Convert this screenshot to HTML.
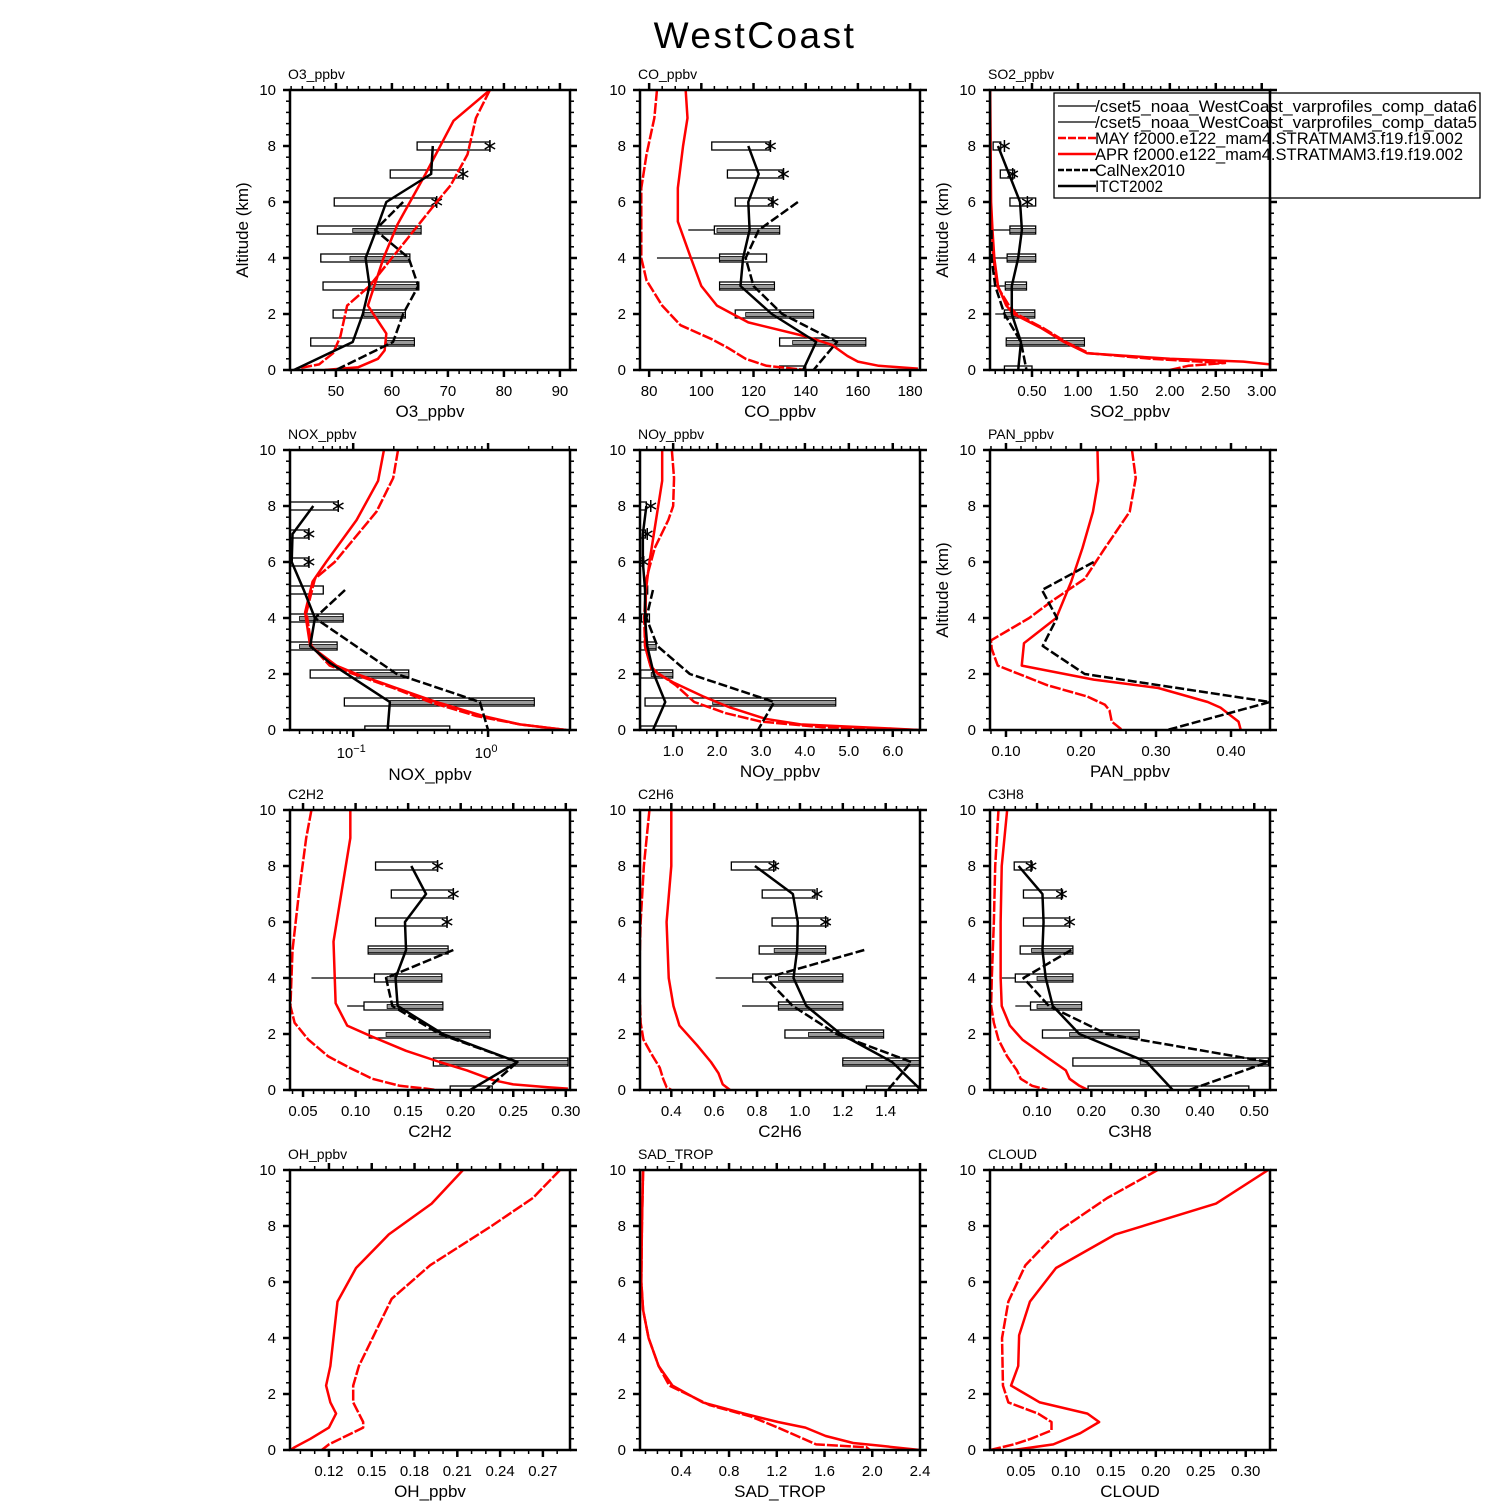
<!DOCTYPE html>
<html><head><meta charset="utf-8"><title>WestCoast</title>
<style>
html,body{margin:0;padding:0;background:#fff;}
svg{display:block;font-family:"Liberation Sans",sans-serif;}
</style></head>
<body>
<svg id="chart" width="1510" height="1510" viewBox="0 0 1510 1510" xmlns="http://www.w3.org/2000/svg">
<rect x="0" y="0" width="1510" height="1510" fill="#fff"/>
<text x="755" y="48" text-anchor="middle" font-size="37" letter-spacing="2.5" font-weight="300" fill="#000">WestCoast</text>
</svg>
<script>
// ---------------- DATA ----------------
const obsAlt = [0,1,2,3,4,5,6,7,8];
// O3
const o3Apr = [[10,77.5],[8.9,71],[7,66],[5.2,61],[4,58.5],[2.3,55.7],[1.3,59],[0.7,58.7],[0.4,57.5],[0.1,54],[0,48]];
const o3May = [[10,77.5],[9,75],[7.7,73.5],[6.6,70.5],[6,68],[4,60],[3,56],[2.3,52],[1.2,50.8],[0.6,49.5],[0.2,47],[0.05,43]];
const o3Itct = [[8,67.3],[7,67],[6,59],[5,57.2],[4,55.3],[3,56],[2,54.8],[1,53],[0,42.5]];
const o3Calnex = [[6,62],[5,57],[4,63],[3,64.7],[2,62],[1,60.2],[0,50]];
const o3Lo6 = [null,45.5,49.5,47.7,47.3,46.7,49.7,59.7,64.5];
const o3Hi6 = [null,64,62.4,64.8,63.2,65.2,67.8,72.7,77.5];
const o3Lo5 = [null,59,55,55.8,52.5,53,null,null,null];
const o3Hi5 = [null,64,62.4,64.8,63.2,65.2,null,null,null];
const o3Whisk = [null,null,null,null,null,null,null,null,null];
const o3Star = [null,null,null,null,null,null,68,72.7,77.5];
// CO
const coApr = [[10,94],[9,94.7],[8,93],[6.5,91],[5.3,91],[4,96],[3,100],[2.3,106],[1.7,118],[1.2,140],[0.9,150],[0.5,156],[0.3,160],[0.15,168],[0.05,183]];
const coMay = [[10,83],[9,82],[7.7,79],[6.5,77],[4,77],[3.2,79],[2.3,85],[1.6,92],[1.1,104],[0.8,110],[0.4,117],[0.15,125],[0.05,135],[0,140]];
const coItct = [[8,118],[7,122],[6,118],[5,118.5],[4,116],[3,115],[2,127],[1,144],[0,139]];
const coCalnex = [[6,137],[5,122],[4,117],[3,120],[2,131],[1,152],[0,143]];
const coLo6 = [130,130,113,107,107,105,113,110,104];
const coHi6 = [140,163,143,128,125,130,127,131,126];
const coLo5 = [null,135,117,107,107,106,null,null,null];
const coHi5 = [null,163,143,128,116,130,null,null,null];
const coWhisk = [null,null,null,null,83,95,null,null,null];
const coStar = [null,null,null,null,null,null,127.5,131.5,126.5];
// SO2
const so2Apr = [[10,0.045],[8,0.05],[6,0.055],[5,0.07],[4,0.09],[3,0.13],[2.3,0.22],[2,0.3],[1.5,0.6],[1,0.85],[0.6,1.1],[0.4,2.0],[0.3,2.8],[0.2,3.09]];
const so2May = [[10,0.04],[8,0.045],[6,0.05],[5,0.065],[4,0.08],[3,0.12],[2.3,0.25],[2,0.33],[1.5,0.62],[1,0.87],[0.6,1.12],[0.4,1.8],[0.25,2.6],[0.15,2.2],[0,2.0]];
const so2Itct = [[8,0.13],[7,0.25],[6,0.37],[5,0.39],[4,0.35],[3,0.28],[2,0.28],[1,0.38],[0,0.35]];
const so2Calnex = [[5,0.06],[4,0.06],[3,0.1],[2,0.2],[1,0.38],[0,0.44]];
const so2Lo6 = [0.2,0.22,0.2,0.21,0.23,0.26,0.26,0.155,0.077];
const so2Hi6 = [0.5,1.07,0.53,0.44,0.54,0.54,0.54,0.31,0.16];
const so2Lo5 = [null,0.22,0.2,0.21,0.23,0.26,null,null,null];
const so2Hi5 = [null,1.07,0.53,0.44,0.54,0.54,null,null,null];
const so2Whisk = [null,null,0.1,0.05,0.04,0.04,null,null,null];
const so2Star = [null,null,null,null,null,null,0.45,0.29,0.2];
// NOX
const noxApr = [[10,0.169],[8.9,0.153],[7.5,0.106],[6,0.063],[5.3,0.05],[4.2,0.044],[3,0.048],[2.3,0.075],[2,0.106],[1.5,0.209],[1,0.414],[0.5,0.918],[0.2,1.72],[0,3.8]];
const noxMay = [[10,0.215],[9,0.198],[7.8,0.149],[6,0.073],[5.4,0.052],[4.2,0.045],[3,0.049],[2.3,0.067],[1.5,0.198],[1,0.37],[0.5,0.82],[0.2,1.72],[0,3.8]];
const noxItct = [[8,0.0506],[7,0.0355],[6,0.035],[5,0.043],[4,0.052],[3,0.048],[2.4,0.067],[1,0.187],[0,0.18]];
const noxCalnex = [[5,0.087],[4,0.052],[2,0.21],[1,0.87],[0,1.0]];
const noxLo6 = [0.122,0.086,0.048,0.034,0.034,0.034,0.034,0.034,0.034];
const noxHi6 = [0.52,2.2,0.258,0.076,0.0843,0.06,0.0465,0.0465,0.0775];
const noxLo5 = [null,0.187,0.106,0.04,0.04,null,null,null,null];
const noxHi5 = [null,2.2,0.258,0.076,0.0843,null,null,null,null];
const noxWhisk = [null,null,null,null,null,null,null,null,null];
const noxStar = [null,null,null,null,null,null,0.047,0.047,0.0775];
// NOy
const noyApr = [[10,0.75],[8.9,0.75],[7.5,0.61],[6,0.46],[5,0.38],[3,0.36],[2.3,0.48],[2,0.66],[1.7,1.0],[1.2,1.68],[0.8,2.3],[0.4,3.1],[0.2,3.9],[0.05,6.0],[0,6.6]];
const noyMay = [[10,0.97],[9,1.02],[8,1.0],[7.5,0.89],[6.5,0.58],[5.4,0.39],[4,0.34],[3,0.36],[2.2,0.5],[1.6,1.06],[1,1.48],[0.6,2.2],[0.3,3.0],[0.1,4.4],[0,6.6]];
const noyItct = [[8,0.39],[7,0.31],[6,0.31],[5,0.36],[4,0.36],[3,0.41],[2,0.56],[1,0.82],[0,0.54]];
const noyCalnex = [[5,0.54],[4,0.39],[3,0.64],[2,1.38],[1,3.3],[0,2.93]];
const noyLo6 = [0.26,0.36,0.26,0.26,0.28,0.26,0.25,0.25,0.25];
const noyHi6 = [1.07,4.7,0.99,0.61,0.46,0.42,0.33,0.37,0.39];
const noyLo5 = [null,1.9,0.5,0.35,null,null,null,null,null];
const noyHi5 = [null,4.7,0.99,0.61,null,null,null,null,null];
const noyWhisk = [null,null,null,null,null,null,null,null,null];
const noyStar = [null,null,null,null,null,null,0.33,0.41,0.49];
// PAN
const panApr = [[10,0.222],[8.9,0.223],[7.8,0.216],[6.5,0.202],[5.3,0.187],[4,0.167],[3.1,0.124],[2.3,0.121],[1.8,0.217],[1.5,0.303],[1,0.369],[0.8,0.386],[0.3,0.41],[0,0.413]];
const panMay = [[10,0.268],[9,0.273],[7.8,0.265],[6.5,0.232],[5.4,0.205],[4.6,0.161],[4,0.131],[3.2,0.08],[2.9,0.081],[2.3,0.089],[1.6,0.155],[1.2,0.208],[0.9,0.232],[0.7,0.238],[0.3,0.241],[0,0.255]];
const panCalnex = [[6,0.217],[5,0.148],[4,0.168],[3,0.149],[2,0.205],[1,0.452],[0,0.315]];
// C2H2
const c2h2Apr = [[10,0.095],[9,0.095],[5.3,0.079],[3.1,0.081],[2.3,0.092],[1.9,0.116],[1.4,0.148],[1,0.18],[0.7,0.206],[0.35,0.231],[0.2,0.25],[0.1,0.283],[0.05,0.302]];
const c2h2May = [[10,0.058],[9,0.053],[7,0.046],[5,0.04],[3,0.038],[2.4,0.042],[1.8,0.055],[1.2,0.074],[0.8,0.094],[0.4,0.116],[0.15,0.142],[0.05,0.167],[0,0.177]];
const c2h2Itct = [[8,0.153],[7,0.167],[6,0.147],[5,0.148],[4,0.138],[3,0.14],[2,0.183],[1,0.254],[0,0.209]];
const c2h2Calnex = [[5,0.193],[4,0.129],[3,0.135],[2,0.18],[1,0.254],[0,0.224]];
const c2h2Lo6 = [0.19,0.174,0.113,0.108,0.118,0.112,0.119,0.134,0.119];
const c2h2Hi6 = [0.23,0.302,0.228,0.183,0.182,0.188,0.187,0.193,0.178];
const c2h2Lo5 = [null,0.18,0.129,0.13,0.13,0.112,null,null,null];
const c2h2Hi5 = [null,0.302,0.228,0.183,0.182,0.188,null,null,null];
const c2h2Whisk = [null,null,null,0.092,0.058,null,null,null,null];
const c2h2Star = [null,null,null,null,null,null,0.187,0.193,0.178];
// C2H6
const c2h6Apr = [[10,0.4],[8,0.4],[6,0.378],[4,0.388],[3,0.41],[2.3,0.438],[1.6,0.52],[1,0.585],[0.6,0.62],[0.4,0.63],[0.2,0.64],[0,0.674]];
const c2h6May = [[10,0.298],[8,0.272],[6,0.257],[4,0.25],[2.4,0.257],[1.8,0.27],[1.2,0.314],[0.8,0.346],[0.4,0.362],[0.1,0.378],[0,0.4]];
const c2h6Itct = [[8,0.79],[7,0.967],[6,0.99],[5,0.987],[4,0.97],[3,1.03],[2,1.19],[1,1.43],[0,1.565]];
const c2h6Calnex = [[5,1.3],[4,0.84],[3,0.967],[2,1.17],[1,1.52],[0,1.41]];
const c2h6Lo6 = [1.31,1.2,0.93,0.9,0.78,0.81,0.87,0.824,0.68];
const c2h6Hi6 = [1.57,1.57,1.39,1.2,1.2,1.12,1.13,1.07,0.887];
const c2h6Lo5 = [null,1.2,1.04,0.9,0.9,0.88,null,null,null];
const c2h6Hi5 = [null,1.57,1.39,1.2,1.2,1.12,null,null,null];
const c2h6Whisk = [null,null,null,0.73,0.607,null,null,null,null];
const c2h6Star = [null,null,null,null,null,null,1.12,1.08,0.878];
// C3H8
const c3h8Apr = [[10,0.045],[8,0.035],[6,0.033],[4,0.033],[3,0.035],[2.3,0.05],[1.8,0.073],[1.2,0.116],[0.7,0.153],[0.4,0.16],[0.15,0.178],[0,0.194]];
const c3h8May = [[10,0.029],[8,0.023],[6,0.0205],[4,0.0167],[3,0.0155],[2.4,0.0205],[1.8,0.029],[1.2,0.045],[0.7,0.063],[0.4,0.07],[0.15,0.091],[0,0.12]];
const c3h8Itct = [[8,0.066],[7,0.11],[6,0.112],[5,0.11],[4,0.116],[3,0.129],[2,0.178],[1,0.302],[0,0.35]];
const c3h8Calnex = [[5,0.163],[4,0.075],[3,0.122],[2,0.228],[1,0.526],[0,0.38]];
const c3h8Lo6 = [0.194,0.166,0.11,0.088,0.06,0.069,0.075,0.075,0.058];
const c3h8Hi6 = [0.49,0.526,0.288,0.182,0.166,0.166,0.16,0.147,0.091];
const c3h8Lo5 = [null,0.29,0.16,0.1,0.1,0.09,null,null,null];
const c3h8Hi5 = [null,0.526,0.288,0.182,0.166,0.166,null,null,null];
const c3h8Whisk = [null,null,null,0.06,0.035,null,null,null,null];
const c3h8Star = [null,null,null,null,null,null,0.16,0.145,0.089];
// OH
const ohApr = [[10,0.214],[8.8,0.192],[7.7,0.162],[6.5,0.139],[5.3,0.126],[3,0.121],[2.3,0.118],[1.7,0.121],[1.3,0.125],[0.8,0.12],[0.4,0.107],[0.1,0.096],[0,0.093]];
const ohMay = [[10,0.282],[9,0.263],[8,0.234],[6.6,0.191],[5.4,0.164],[3,0.141],[2.3,0.137],[1.7,0.137],[1.0,0.144],[0.8,0.144],[0.5,0.132],[0.2,0.12],[0,0.115]];
// SAD_TROP
const sadApr = [[10,0.08],[8,0.07],[6,0.065],[5,0.08],[4,0.126],[3,0.21],[2.3,0.326],[1.7,0.58],[1.3,0.926],[1.0,1.21],[0.8,1.44],[0.5,1.61],[0.25,1.84],[0.15,2.07],[0,2.4]];
const sadMay = [[10,0.08],[8,0.07],[6,0.065],[5,0.08],[4,0.126],[3,0.21],[2.3,0.3],[1.6,0.64],[1.2,0.98],[0.8,1.21],[0.5,1.37],[0.2,1.53],[0.1,1.95],[0,1.98]];
// CLOUD
const cloudApr = [[10,0.325],[8.8,0.267],[7.7,0.155],[6.5,0.089],[5.3,0.06],[4.1,0.048],[3,0.047],[2.3,0.039],[1.7,0.071],[1.3,0.124],[1.0,0.137],[0.6,0.116],[0.2,0.086],[0,0.042]];
const cloudMay = [[10,0.202],[9,0.146],[7.8,0.091],[6.6,0.055],[5.3,0.036],[4,0.029],[2.3,0.03],[1.7,0.036],[1.3,0.069],[1.0,0.084],[0.7,0.084],[0.4,0.061],[0.2,0.042],[0,0.016]];
// tick values / labels
const o3Ticks=[50,60,70,80,90], o3Labels=['50','60','70','80','90'];
const coTicks=[80,100,120,140,160,180], coLabels=['80','100','120','140','160','180'];
const so2Ticks=[0.5,1,1.5,2,2.5,3], so2Labels=['0.50','1.00','1.50','2.00','2.50','3.00'];
const noxTicks=[0.1,1];
const noyTicks=[1,2,3,4,5,6], noyLabels=['1.0','2.0','3.0','4.0','5.0','6.0'];
const panTicks=[0.1,0.2,0.3,0.4], panLabels=['0.10','0.20','0.30','0.40'];
const c2h2Ticks=[0.05,0.1,0.15,0.2,0.25,0.3], c2h2Labels=['0.05','0.10','0.15','0.20','0.25','0.30'];
const c2h6Ticks=[0.4,0.6,0.8,1.0,1.2,1.4], c2h6Labels=['0.4','0.6','0.8','1.0','1.2','1.4'];
const c3h8Ticks=[0.1,0.2,0.3,0.4,0.5], c3h8Labels=['0.10','0.20','0.30','0.40','0.50'];
const ohTicks=[0.12,0.15,0.18,0.21,0.24,0.27], ohLabels=['0.12','0.15','0.18','0.21','0.24','0.27'];
const sadTicks=[0.4,0.8,1.2,1.6,2.0,2.4], sadLabels=['0.4','0.8','1.2','1.6','2.0','2.4'];
const cloudTicks=[0.05,0.1,0.15,0.2,0.25,0.3], cloudLabels=['0.05','0.10','0.15','0.20','0.25','0.30'];
const altTicks=[0,2,4,6,8,10];

// ---------------- LAYOUT ----------------
const colX=[290,640,990], rowY=[90,450,810,1170], PW=280, PH=280;
const NS='http://www.w3.org/2000/svg';
const svg=document.getElementById('chart');
function el(tag,attrs,parent){const e=document.createElementNS(NS,tag);for(const k in attrs)e.setAttribute(k,attrs[k]);(parent||svg).appendChild(e);return e;}

const panels=[
 {key:'o3',c:0,r:0,title:'O3_ppbv',xl:'O3_ppbv',min:41.8,max:91.8,ticks:o3Ticks,labels:o3Labels,minor:2,ylab:true,apr:o3Apr,may:o3May,itct:o3Itct,cal:o3Calnex,lo6:o3Lo6,hi6:o3Hi6,lo5:o3Lo5,hi5:o3Hi5,wh:o3Whisk,st:o3Star},
 {key:'co',c:1,r:0,title:'CO_ppbv',xl:'CO_ppbv',min:76.5,max:183.8,ticks:coTicks,labels:coLabels,minor:5,apr:coApr,may:coMay,itct:coItct,cal:coCalnex,lo6:coLo6,hi6:coHi6,lo5:coLo5,hi5:coHi5,wh:coWhisk,st:coStar},
 {key:'so2',c:2,r:0,title:'SO2_ppbv',xl:'SO2_ppbv',min:0.043,max:3.09,ticks:so2Ticks,labels:so2Labels,minor:0.1,ylab:true,apr:so2Apr,may:so2May,itct:so2Itct,cal:so2Calnex,lo6:so2Lo6,hi6:so2Hi6,lo5:so2Lo5,hi5:so2Hi5,wh:so2Whisk,st:so2Star},
 {key:'nox',c:0,r:1,title:'NOX_ppbv',xl:'NOX_ppbv',min:0.034,max:4.05,log:true,ticks:noxTicks,apr:noxApr,may:noxMay,itct:noxItct,cal:noxCalnex,lo6:noxLo6,hi6:noxHi6,lo5:noxLo5,hi5:noxHi5,wh:noxWhisk,st:noxStar},
 {key:'noy',c:1,r:1,title:'NOy_ppbv',xl:'NOy_ppbv',min:0.245,max:6.62,ticks:noyTicks,labels:noyLabels,minor:0.2,apr:noyApr,may:noyMay,itct:noyItct,cal:noyCalnex,lo6:noyLo6,hi6:noyHi6,lo5:noyLo5,hi5:noyHi5,wh:noyWhisk,st:noyStar},
 {key:'pan',c:2,r:1,title:'PAN_ppbv',xl:'PAN_ppbv',min:0.0787,max:0.452,ticks:panTicks,labels:panLabels,minor:0.02,ylab:true,apr:panApr,may:panMay,cal:panCalnex},
 {key:'c2h2',c:0,r:2,title:'C2H2',xl:'C2H2',min:0.0376,max:0.304,ticks:c2h2Ticks,labels:c2h2Labels,minor:0.01,apr:c2h2Apr,may:c2h2May,itct:c2h2Itct,cal:c2h2Calnex,lo6:c2h2Lo6,hi6:c2h2Hi6,lo5:c2h2Lo5,hi5:c2h2Hi5,wh:c2h2Whisk,st:c2h2Star},
 {key:'c2h6',c:1,r:2,title:'C2H6',xl:'C2H6',min:0.254,max:1.56,ticks:c2h6Ticks,labels:c2h6Labels,minor:0.05,apr:c2h6Apr,may:c2h6May,itct:c2h6Itct,cal:c2h6Calnex,lo6:c2h6Lo6,hi6:c2h6Hi6,lo5:c2h6Lo5,hi5:c2h6Hi5,wh:c2h6Whisk,st:c2h6Star},
 {key:'c3h8',c:2,r:2,title:'C3H8',xl:'C3H8',min:0.0134,max:0.529,ticks:c3h8Ticks,labels:c3h8Labels,minor:0.02,apr:c3h8Apr,may:c3h8May,itct:c3h8Itct,cal:c3h8Calnex,lo6:c3h8Lo6,hi6:c3h8Hi6,lo5:c3h8Lo5,hi5:c3h8Hi5,wh:c3h8Whisk,st:c3h8Star},
 {key:'oh',c:0,r:3,title:'OH_ppbv',xl:'OH_ppbv',min:0.0927,max:0.289,ticks:ohTicks,labels:ohLabels,minor:0.01,apr:ohApr,may:ohMay},
 {key:'sad',c:1,r:3,title:'SAD_TROP',xl:'SAD_TROP',min:0.054,max:2.4,ticks:sadTicks,labels:sadLabels,minor:0.1,apr:sadApr,may:sadMay},
 {key:'cloud',c:2,r:3,title:'CLOUD',xl:'CLOUD',min:0.0156,max:0.327,ticks:cloudTicks,labels:cloudLabels,minor:0.01,apr:cloudApr,may:cloudMay}
];

panels.forEach(p=>{
  const x0=colX[p.c], y0=rowY[p.r];
  const g=el('g',{});
  
  
  const xs = p.log ? (v=>x0+(Math.log10(v)-Math.log10(p.min))/(Math.log10(p.max)-Math.log10(p.min))*PW)
                   : (v=>x0+(v-p.min)/(p.max-p.min)*PW);
  const ys = a=>y0+PH-a/10*PH;
  const cid='clip-'+p.key;
  const cp=el('clipPath',{id:cid},g); el('rect',{x:x0,y:y0,width:PW,height:PH},cp);
  const plot=el('g',{'clip-path':'url(#'+cid+')'},g);

  for(let a=0;a<=10.001;a+=0.4){
    const major=Math.abs(a/2-Math.round(a/2))<1e-6;
    const L=major?7:4, y=ys(a);
    el('line',{x1:x0-L,y1:y,x2:x0,y2:y,stroke:'#000','stroke-width':major?2.5:1.5},g);
    el('line',{x1:x0+PW,y1:y,x2:x0+PW+L,y2:y,stroke:'#000','stroke-width':major?2.5:1.5},g);
  }
  altTicks.forEach(a=>{
    const t=el('text',{x:x0-14,y:ys(a)+5,'text-anchor':'end','font-size':15,fill:'#000'},g);
    t.textContent=String(a);
    
    
  });
  let minors=[];
  if(p.log){
    for(let d=-2; d<=1; d++) for(let m=1;m<10;m++){const v=m*Math.pow(10,d); if(v>=p.min&&v<=p.max) minors.push([v,m===1]);}
  } else {
    const s=p.minor; for(let v=Math.ceil(p.min/s-1e-6)*s; v<=p.max+1e-9; v+=s){
      const major=p.ticks.some(t=>Math.abs(t-v)<s*0.01); minors.push([v,major]);}
  }
  minors.forEach(([v,major])=>{
    const x=xs(v), L=major?7:4;
    el('line',{x1:x,y1:y0+PH,x2:x,y2:y0+PH+L,stroke:'#000','stroke-width':major?2.5:1.5},g);
    el('line',{x1:x,y1:y0-L,x2:x,y2:y0,stroke:'#000','stroke-width':major?2.5:1.5},g);
  });
  p.ticks.forEach((v,i)=>{
    if(p.log){
      const t=el('text',{x:xs(v)-2,y:y0+PH+28,'text-anchor':'middle','font-size':15,fill:'#000'},g);
      t.textContent='10';
      const sup=el('tspan',{dy:-6,'font-size':11},t); sup.textContent= v<1?'\u22121':'0';
      
      
    } else {
      const t=el('text',{x:xs(v),y:y0+PH+26,'text-anchor':'middle','font-size':15,fill:'#000'},g);
      t.textContent=p.labels[i];
      
      
    }
  });
  const xt=el('text',{x:x0+PW/2,y:y0+PH+(p.log?50:47),'text-anchor':'middle','font-size':17,fill:'#000'},g);
  xt.textContent=p.xl;
  
  
  const tt=el('text',{x:x0-2,y:y0-11,'font-size':14,fill:'#000'},g);
  tt.textContent=p.title;
  
  
  if(p.ylab){
    const yl=el('text',{x:0,y:0,'text-anchor':'middle','font-size':17,fill:'#000',transform:'translate('+(x0-42)+','+(y0+PH/2)+') rotate(-90)'},g);
    yl.textContent='Altitude  (km)';
    
    
  }

  if(p.lo6){
    obsAlt.forEach((a,i)=>{
      const y=ys(a);
      if(p.wh[i]!=null && p.lo6[i]!=null){
        const w=el('line',{x1:xs(p.wh[i]),y1:y,x2:xs(p.lo6[i]),y2:y,stroke:'#000','stroke-width':1.2},plot);
        
        
      }
      if(p.lo6[i]!=null){
        const b=el('rect',{x:xs(p.lo6[i]),y:y-4,width:Math.max(1,xs(p.hi6[i])-xs(p.lo6[i])),height:8,fill:'#fff',stroke:'#000','stroke-width':1.3},plot);
        
        
      }
      if(p.lo5[i]!=null){
        const b=el('rect',{x:xs(p.lo5[i]),y:y-1.5,width:Math.max(1,xs(p.hi5[i])-xs(p.lo5[i])),height:4,fill:'#9a9a9a',stroke:'#000','stroke-width':0.8},plot);
        
        
      }
      if(p.st[i]!=null){
        const sx=xs(p.st[i]), sg=el('g',{},plot);
        
        
        [0,60,120].forEach(ang=>{const r=ang*Math.PI/180, d=6;
          el('line',{x1:sx-d*Math.sin(r),y1:y-d*Math.cos(r),x2:sx+d*Math.sin(r),y2:y+d*Math.cos(r),stroke:'#000','stroke-width':1.5},sg);});
      }
    });
  }
  function series(pts,color,dash,name){
    const d=pts.map((q,i)=>(i?'L':'M')+xs(q[1]).toFixed(2)+','+ys(q[0]).toFixed(2)).join(' ');
    const attrs={d:d,fill:'none',stroke:color,'stroke-width':2.5,'stroke-linejoin':'round'};
    if(dash) attrs['stroke-dasharray']=dash;
    const path=el('path',attrs,plot);
    
    
  }
  if(p.may) series(p.may,'#ff0000','11 2','may');
  if(p.apr) series(p.apr,'#ff0000',null,'apr');
  if(p.cal) series(p.cal,'#000','9 3','calnex');
  if(p.itct) series(p.itct,'#000',null,'itct');

  const fr=el('rect',{x:x0,y:y0,width:PW,height:PH,fill:'none',stroke:'#000','stroke-width':2.5},g);
  
  
});

// ---------------- LEGEND ----------------
const legend=el('g',{});


el('rect',{x:1054,y:93,width:426,height:105,fill:'#fff',stroke:'#000','stroke-width':1.3},legend);
const legLabels=['/cset5_noaa_WestCoast_varprofiles_comp_data6','/cset5_noaa_WestCoast_varprofiles_comp_data5','MAY  f2000.e122_mam4.STRATMAM3.f19.f19.002','APR  f2000.e122_mam4.STRATMAM3.f19.f19.002','CalNex2010','ITCT2002'];
const legWidths=[382,382,368,368,90,68];
const legStyle=[['#000',1.2,null],['#000',1.2,null],['#ff0000',2.5,'8 2'],['#ff0000',2.5,null],['#000',2.5,'6 2'],['#000',2.5,null]];
legLabels.forEach((s,i)=>{
  const y=106+i*16;
  const a={x1:1058,y1:y,x2:1096,y2:y,stroke:legStyle[i][0],'stroke-width':legStyle[i][1]};
  if(legStyle[i][2]) a['stroke-dasharray']=legStyle[i][2];
  const ln=el('line',a,legend);
  
  
  const t=el('text',{x:1095,y:y+6,'font-size':16.5,fill:'#000',textLength:legWidths[i],lengthAdjust:'spacingAndGlyphs'},legend);
  t.textContent=s;
  
  
});
el('line',{x1:1270,y1:90,x2:1270,y2:370,stroke:'#000','stroke-width':2.5});
</script>
</body></html>
